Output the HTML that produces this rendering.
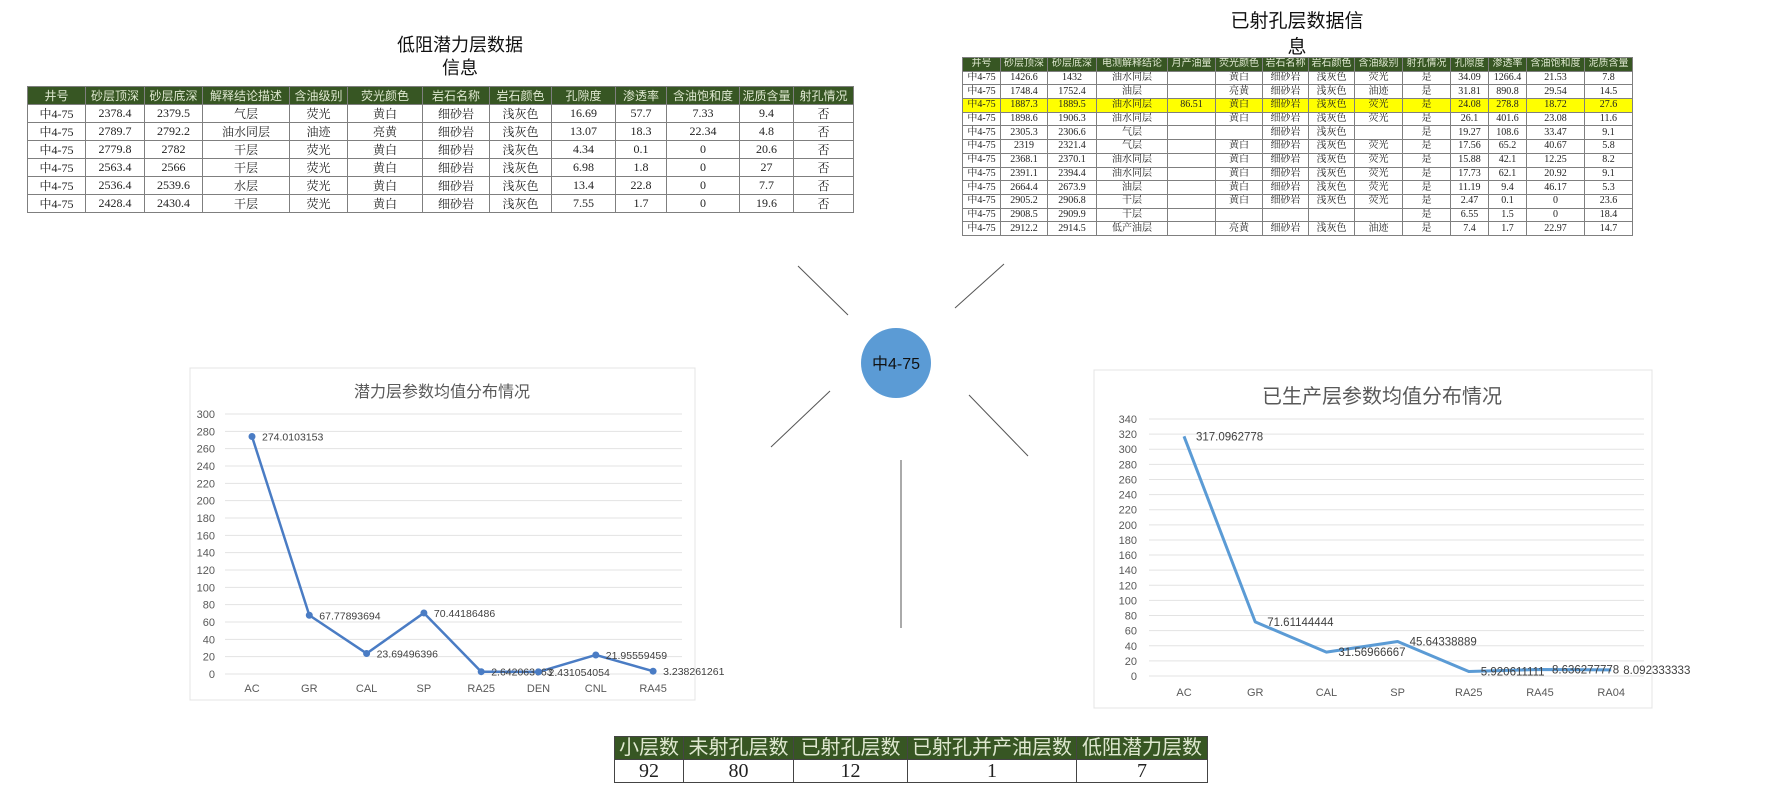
<!DOCTYPE html>
<html><head><meta charset="utf-8">
<style>
html,body{margin:0;padding:0;background:#fff;}
body{width:1789px;height:811px;position:relative;overflow:hidden;font-family:"Liberation Sans","Noto Sans CJK SC",sans-serif;}
.abs{position:absolute;}
table{border-collapse:collapse;table-layout:fixed;position:absolute;}
td,th{border:1px solid #7f7f7f;text-align:center;padding:0;white-space:nowrap;overflow:hidden;font-weight:normal;}
th{background:#375623;color:#dfe8d0;}
td{font-family:"Liberation Serif","Noto Serif CJK SC",serif;color:#222;}
.ttl{position:absolute;text-align:center;color:#111;line-height:1.3;}
.hl td{background:#ffff00;}
#pt td,#pt th{line-height:12px;height:12.7px;}
#st td,#st th{line-height:22px;}
</style></head><body>

<div class="ttl" style="left:390px;top:34px;width:140px;font-size:18px;">低阻潜力层数据<br>信息</div>
<table style="left:27px;top:86px;width:826px;font-size:12px;">
<colgroup><col style="width:58px"><col style="width:59px"><col style="width:58px"><col style="width:87px"><col style="width:58px"><col style="width:75px"><col style="width:67px"><col style="width:62px"><col style="width:64px"><col style="width:51px"><col style="width:73px"><col style="width:54px"><col style="width:60px"></colgroup>
<tr style="height:17px"><th>井号</th><th>砂层顶深</th><th>砂层底深</th><th>解释结论描述</th><th>含油级别</th><th>荧光颜色</th><th>岩石名称</th><th>岩石颜色</th><th>孔隙度</th><th>渗透率</th><th>含油饱和度</th><th>泥质含量</th><th>射孔情况</th></tr>
<tr style="height:17px"><td>中4-75</td><td>2378.4</td><td>2379.5</td><td>气层</td><td>荧光</td><td>黄白</td><td>细砂岩</td><td>浅灰色</td><td>16.69</td><td>57.7</td><td>7.33</td><td>9.4</td><td>否</td></tr>
<tr style="height:17px"><td>中4-75</td><td>2789.7</td><td>2792.2</td><td>油水同层</td><td>油迹</td><td>亮黄</td><td>细砂岩</td><td>浅灰色</td><td>13.07</td><td>18.3</td><td>22.34</td><td>4.8</td><td>否</td></tr>
<tr style="height:17px"><td>中4-75</td><td>2779.8</td><td>2782</td><td>干层</td><td>荧光</td><td>黄白</td><td>细砂岩</td><td>浅灰色</td><td>4.34</td><td>0.1</td><td>0</td><td>20.6</td><td>否</td></tr>
<tr style="height:17px"><td>中4-75</td><td>2563.4</td><td>2566</td><td>干层</td><td>荧光</td><td>黄白</td><td>细砂岩</td><td>浅灰色</td><td>6.98</td><td>1.8</td><td>0</td><td>27</td><td>否</td></tr>
<tr style="height:17px"><td>中4-75</td><td>2536.4</td><td>2539.6</td><td>水层</td><td>荧光</td><td>黄白</td><td>细砂岩</td><td>浅灰色</td><td>13.4</td><td>22.8</td><td>0</td><td>7.7</td><td>否</td></tr>
<tr style="height:17px"><td>中4-75</td><td>2428.4</td><td>2430.4</td><td>干层</td><td>荧光</td><td>黄白</td><td>细砂岩</td><td>浅灰色</td><td>7.55</td><td>1.7</td><td>0</td><td>19.6</td><td>否</td></tr>
</table>

<div class="ttl" style="left:1222px;top:9px;width:150px;font-size:19px;line-height:26px;">已射孔层数据信<br>息</div>
<table id="pt" style="left:962px;top:57px;width:670px;font-size:10px;">
<colgroup><col style="width:38px"><col style="width:47px"><col style="width:49px"><col style="width:71px"><col style="width:48px"><col style="width:47px"><col style="width:46px"><col style="width:46px"><col style="width:48px"><col style="width:48px"><col style="width:38px"><col style="width:38px"><col style="width:58px"><col style="width:48px"></colgroup>
<tr><th>井号</th><th>砂层顶深</th><th>砂层底深</th><th>电测解释结论</th><th>月产油量</th><th>荧光颜色</th><th>岩石名称</th><th>岩石颜色</th><th>含油级别</th><th>射孔情况</th><th>孔隙度</th><th>渗透率</th><th>含油饱和度</th><th>泥质含量</th></tr>
<tr><td>中4-75</td><td>1426.6</td><td>1432</td><td>油水同层</td><td></td><td>黄白</td><td>细砂岩</td><td>浅灰色</td><td>荧光</td><td>是</td><td>34.09</td><td>1266.4</td><td>21.53</td><td>7.8</td></tr>
<tr><td>中4-75</td><td>1748.4</td><td>1752.4</td><td>油层</td><td></td><td>亮黄</td><td>细砂岩</td><td>浅灰色</td><td>油迹</td><td>是</td><td>31.81</td><td>890.8</td><td>29.54</td><td>14.5</td></tr>
<tr class="hl"><td>中4-75</td><td>1887.3</td><td>1889.5</td><td>油水同层</td><td>86.51</td><td>黄白</td><td>细砂岩</td><td>浅灰色</td><td>荧光</td><td>是</td><td>24.08</td><td>278.8</td><td>18.72</td><td>27.6</td></tr>
<tr><td>中4-75</td><td>1898.6</td><td>1906.3</td><td>油水同层</td><td></td><td>黄白</td><td>细砂岩</td><td>浅灰色</td><td>荧光</td><td>是</td><td>26.1</td><td>401.6</td><td>23.08</td><td>11.6</td></tr>
<tr><td>中4-75</td><td>2305.3</td><td>2306.6</td><td>气层</td><td></td><td></td><td>细砂岩</td><td>浅灰色</td><td></td><td>是</td><td>19.27</td><td>108.6</td><td>33.47</td><td>9.1</td></tr>
<tr><td>中4-75</td><td>2319</td><td>2321.4</td><td>气层</td><td></td><td>黄白</td><td>细砂岩</td><td>浅灰色</td><td>荧光</td><td>是</td><td>17.56</td><td>65.2</td><td>40.67</td><td>5.8</td></tr>
<tr><td>中4-75</td><td>2368.1</td><td>2370.1</td><td>油水同层</td><td></td><td>黄白</td><td>细砂岩</td><td>浅灰色</td><td>荧光</td><td>是</td><td>15.88</td><td>42.1</td><td>12.25</td><td>8.2</td></tr>
<tr><td>中4-75</td><td>2391.1</td><td>2394.4</td><td>油水同层</td><td></td><td>黄白</td><td>细砂岩</td><td>浅灰色</td><td>荧光</td><td>是</td><td>17.73</td><td>62.1</td><td>20.92</td><td>9.1</td></tr>
<tr><td>中4-75</td><td>2664.4</td><td>2673.9</td><td>油层</td><td></td><td>黄白</td><td>细砂岩</td><td>浅灰色</td><td>荧光</td><td>是</td><td>11.19</td><td>9.4</td><td>46.17</td><td>5.3</td></tr>
<tr><td>中4-75</td><td>2905.2</td><td>2906.8</td><td>干层</td><td></td><td>黄白</td><td>细砂岩</td><td>浅灰色</td><td>荧光</td><td>是</td><td>2.47</td><td>0.1</td><td>0</td><td>23.6</td></tr>
<tr><td>中4-75</td><td>2908.5</td><td>2909.9</td><td>干层</td><td></td><td></td><td></td><td></td><td></td><td>是</td><td>6.55</td><td>1.5</td><td>0</td><td>18.4</td></tr>
<tr><td>中4-75</td><td>2912.2</td><td>2914.5</td><td>低产油层</td><td></td><td>亮黄</td><td>细砂岩</td><td>浅灰色</td><td>油迹</td><td>是</td><td>7.4</td><td>1.7</td><td>22.97</td><td>14.7</td></tr>
</table>

<svg class="abs" style="left:0;top:0" width="1789" height="811">
<g stroke="#555" stroke-width="1">
<line x1="798" y1="266" x2="848" y2="315"/>
<line x1="1004" y1="264" x2="955" y2="308"/>
<line x1="830" y1="391" x2="771" y2="447"/>
<line x1="969" y1="395" x2="1028" y2="456"/>
<line x1="901" y1="460" x2="901" y2="628"/>
</g>
<circle cx="896" cy="363" r="35" fill="#5b9bd5"/>
<text x="896" y="369" text-anchor="middle" font-size="16" fill="#111" font-family="Liberation Sans, Noto Sans CJK SC, sans-serif">中4-75</text>
</svg>

<svg id="chartL" class="abs" style="left:0;top:0" width="1789" height="811"></svg>

<table id="st" style="left:614px;top:736px;width:593px;font-size:20px;">
<colgroup><col style="width:69px"><col style="width:110px"><col style="width:114px"><col style="width:169px"><col style="width:131px"></colgroup>
<tr style="height:23px"><th style="border-color:#444">小层数</th><th style="border-color:#444">未射孔层数</th><th style="border-color:#444">已射孔层数</th><th style="border-color:#444">已射孔并产油层数</th><th style="border-color:#444">低阻潜力层数</th></tr>
<tr style="height:23px"><td style="border-color:#444">92</td><td style="border-color:#444">80</td><td style="border-color:#444">12</td><td style="border-color:#444">1</td><td style="border-color:#444">7</td></tr>
</table>

<script>
const catsL = ["AC","GR","CAL","SP","RA25","DEN","CNL","RA45"];
const valsL = [274.0103153,67.77893694,23.69496396,70.44186486,2.642063063,2.431054054,21.95559459,3.238261261];
const ticksL = [0,20,40,60,80,100,120,140,160,180,200,220,240,260,280,300];
const catsR = ["AC","GR","CAL","SP","RA25","RA45","RA04"];
const valsR = [317.0962778,71.61144444,31.56966667,45.64338889,5.920611111,8.636277778,8.092333333];
const ticksR = [0,20,40,60,80,100,120,140,160,180,200,220,240,260,280,300,320,340];

const NS="http://www.w3.org/2000/svg";
const svg=document.getElementById('chartL');
function mk(tag,attrs,parent){const e=document.createElementNS(NS,tag);for(const k in attrs)e.setAttribute(k,attrs[k]);(parent||svg).appendChild(e);return e;}

function drawChart(cfg){
  const g=mk('g',{});
  
  
  const card=mk('rect',{x:cfg.card[0],y:cfg.card[1],width:cfg.card[2],height:cfg.card[3],fill:'#fff',stroke:'#e4e4e4'},g);
  
  
  const t=mk('text',{x:cfg.titleX,y:cfg.titleY,'text-anchor':'middle','font-size':cfg.titleSize,fill:'#595959','font-family':'Liberation Sans, Noto Sans CJK SC, sans-serif'},g);
  t.textContent=cfg.title;
  
  
  const ymax=cfg.ticks[cfg.ticks.length-1];
  const y=v=>cfg.y0-(v/ymax)*(cfg.y0-cfg.yTop);
  const x=i=>cfg.x0+i*cfg.dx;
  cfg.ticks.forEach(tv=>{
    const gl=mk('line',{x1:cfg.gx1,x2:cfg.gx2,y1:y(tv),y2:y(tv),stroke:'#e3e3e3','stroke-width':1},g);
    
    
    const tl=mk('text',{x:cfg.tickX,y:y(tv)+4,'text-anchor':'end','font-size':11,fill:'#595959','font-family':'Liberation Sans, sans-serif'},g);
    tl.textContent=tv;
    
    
  });
  cfg.cats.forEach((c,i)=>{
    const xl=mk('text',{x:x(i),y:cfg.xLabY,'text-anchor':'middle','font-size':11,fill:'#595959','font-family':'Liberation Sans, sans-serif'},g);
    xl.textContent=c;
    
    
  });
  const pts=cfg.vals.map((v,i)=>x(i)+','+y(v)).join(' ');
  const pl=mk('polyline',{points:pts,fill:'none',stroke:cfg.color,'stroke-width':cfg.lw,'stroke-linejoin':'round'},g);
  
  
  cfg.vals.forEach((v,i)=>{
    if(cfg.markers){
      const m=mk('circle',{cx:x(i),cy:y(v),r:3.5,fill:cfg.color},g);
      
      
    }
    const dl=mk('text',{x:x(i)+cfg.lblDx,y:y(v)+4,'font-size':cfg.lblSize,fill:'#404040','font-family':'Liberation Sans, sans-serif'},g);
    dl.textContent=String(v);
    
    
  });
}

drawChart({name:'potential-layer-chart-plot',card:[190,368,505,332],title:'潜力层参数均值分布情况',titleX:442,titleY:397,titleSize:16,
  ticks:ticksL,cats:catsL,vals:valsL,y0:674,yTop:414,x0:252,dx:57.3,gx1:225,gx2:682,tickX:215,xLabY:692,
  color:'#4a7cc4',lw:2.5,markers:true,lblDx:10,lblSize:10.5});
drawChart({name:'produced-layer-chart-plot',card:[1094,370,558,338],title:'已生产层参数均值分布情况',titleX:1382,titleY:403,titleSize:20,
  ticks:ticksR,cats:catsR,vals:valsR,y0:676,yTop:419,x0:1184,dx:71.2,gx1:1149,gx2:1644,tickX:1137,xLabY:696,
  color:'#5b9bd5',lw:3,markers:false,lblDx:12,lblSize:11.5});
</script>
</body></html>
